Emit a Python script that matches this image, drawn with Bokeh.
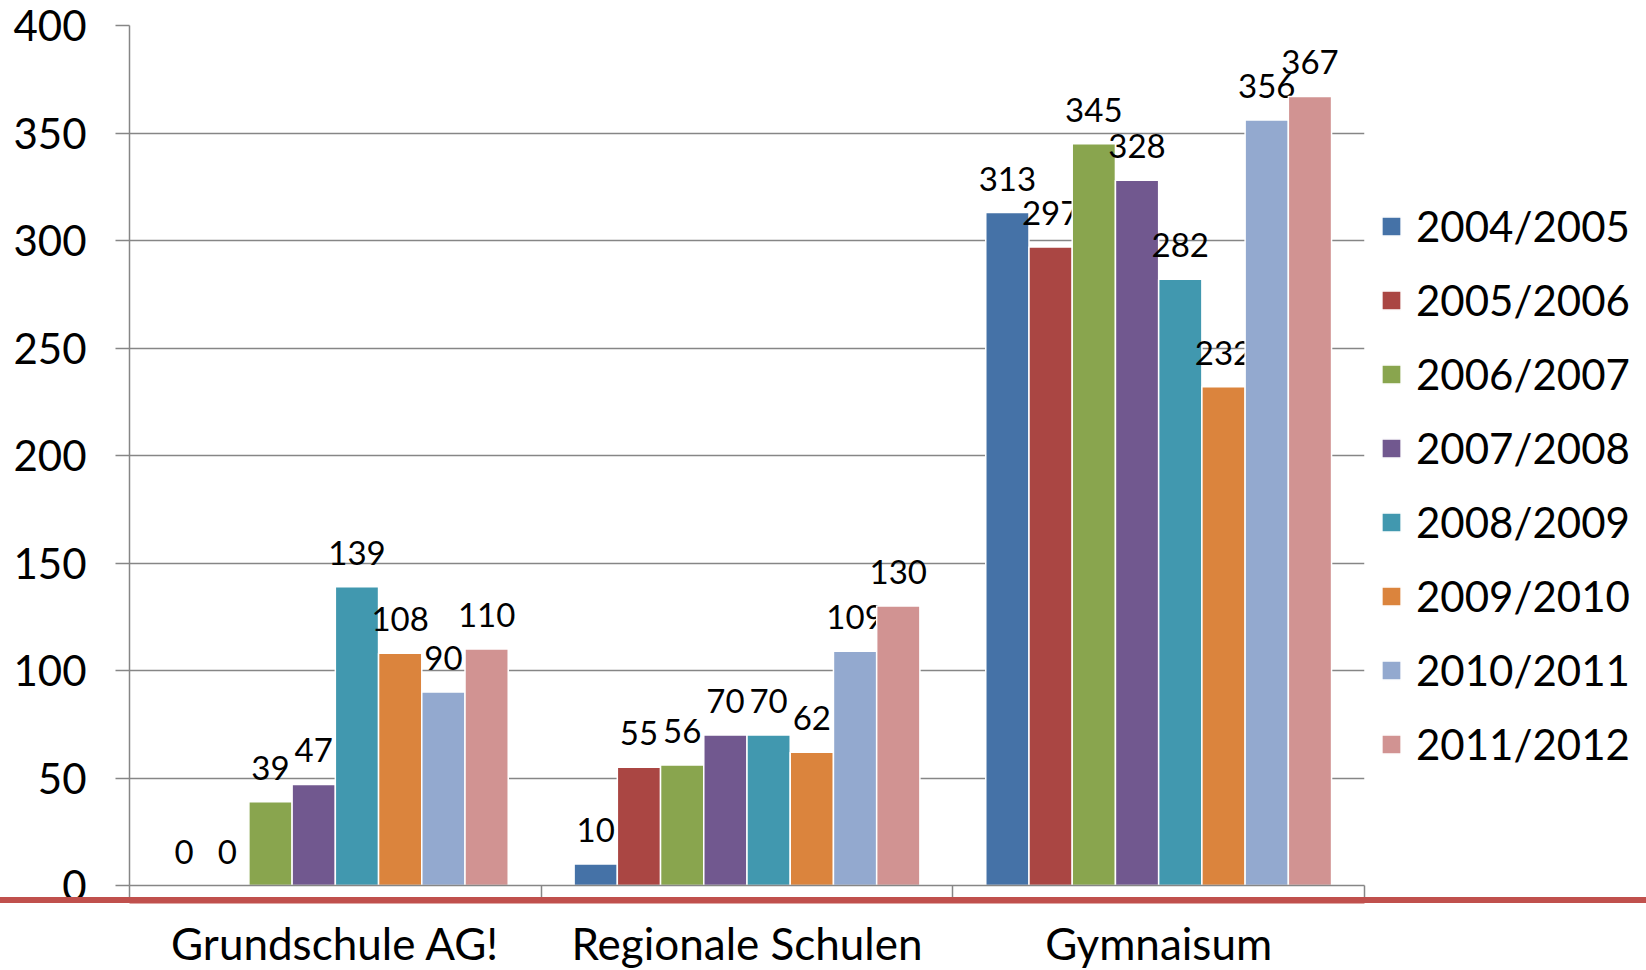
from bokeh.plotting import figure
from bokeh.models import (Range1d, FixedTicker, ColumnDataSource, LinearAxis,
                          Legend, LegendItem, Div)
from bokeh.layouts import column
from bokeh.transform import dodge
from bokeh.core.properties import value
from bokeh.embed import file_html
from bokeh.resources import INLINE

categories = ["Grundschule AG!", "Regionale Schulen", "Gymnaisum"]
years = ["2004/2005", "2005/2006", "2006/2007", "2007/2008",
         "2008/2009", "2009/2010", "2010/2011", "2011/2012"]
v_2004_2005 = [0, 10, 313]
v_2005_2006 = [0, 55, 297]
v_2006_2007 = [39, 56, 345]
v_2007_2008 = [47, 70, 328]
v_2008_2009 = [139, 70, 282]
v_2009_2010 = [108, 62, 232]
v_2010_2011 = [90, 109, 356]
v_2011_2012 = [110, 130, 367]
series = [v_2004_2005, v_2005_2006, v_2006_2007, v_2007_2008,
          v_2008_2009, v_2009_2010, v_2010_2011, v_2011_2012]
colors = ["#4572A7", "#AA4643", "#89A54E", "#71588F",
          "#4198AF", "#DB843D", "#93A9CF", "#D19392"]
y_ticks = [0, 50, 100, 150, 200, 250, 300, 350, 400]

FONT = "Lato"
GRAY = "#868686"
RED = "#C0504D"

n = len(categories)
centers = [i + 0.5 for i in range(n)]
bounds = list(range(n + 1))

p = figure(x_range=Range1d(0, n), y_range=Range1d(0, 400),
           frame_width=1235, frame_height=860,
           min_border_left=129, min_border_right=0, min_border_top=25, min_border_bottom=0,
           output_backend="svg", toolbar_location=None, x_axis_location=None)
p.outline_line_color = None
p.xgrid.visible = False
p.background_fill_color = "white"

data = {"cat": categories, "xc": centers}
for y, s in zip(years, series):
    data[y] = s
    data[y + "_lbl"] = [str(v) for v in s]
src = ColumnDataSource(data)

bw = 0.105
items = []
for i, (y, c) in enumerate(zip(years, colors)):
    off = (i - 3.5) * bw
    r = p.vbar(x=dodge("xc", off), top=y, width=bw, bottom=0,
               source=src, fill_color=c, line_color="white", line_width=1.5)
    p.text(x=dodge("xc", off), y=y, text=y + "_lbl", source=src,
           text_align="center", text_baseline="middle", y_offset=-34,
           text_font=value(FONT), text_font_size="33px", text_color="black")
    items.append(LegendItem(label=y, renderers=[r]))

# y axis
p.yaxis.ticker = FixedTicker(ticks=y_ticks)
p.yaxis.major_tick_out = 14
p.yaxis.major_tick_in = 0
p.yaxis.minor_tick_out = 0
p.yaxis.minor_tick_in = 0
p.yaxis.major_tick_line_color = GRAY
p.yaxis.major_tick_line_width = 1.5
p.yaxis.axis_line_color = GRAY
p.yaxis.axis_line_width = 1.5
p.yaxis.major_label_standoff = 29
p.yaxis.major_label_text_font = FONT
p.yaxis.major_label_text_font_size = "42px"
p.yaxis.major_label_text_color = "black"
p.ygrid.ticker = FixedTicker(ticks=y_ticks)
p.ygrid.grid_line_color = GRAY
p.ygrid.grid_line_width = 1.5

# separator ticks at the group boundaries
sep_ax = LinearAxis(ticker=FixedTicker(ticks=bounds, minor_ticks=[]),
                    major_label_overrides={b: "" for b in bounds})
sep_ax.major_tick_out = 15
sep_ax.major_tick_in = 0
sep_ax.major_tick_line_color = GRAY
sep_ax.major_tick_line_width = 1.5
sep_ax.axis_line_color = GRAY
sep_ax.axis_line_width = 1.5
sep_ax.major_label_standoff = 0
sep_ax.major_label_text_font_size = "1px"
p.add_layout(sep_ax, "below")

# category labels, with the red rule as their axis line
cat_ax = LinearAxis(ticker=FixedTicker(ticks=centers, minor_ticks=[]),
                    major_label_overrides={c: lab for c, lab in zip(centers, categories)})
cat_ax.major_tick_out = 0
cat_ax.major_tick_in = 0
cat_ax.axis_line_color = RED
cat_ax.axis_line_width = 6
cat_ax.major_label_standoff = 16
cat_ax.major_label_text_font = FONT
cat_ax.major_label_text_font_size = "44px"
cat_ax.major_label_text_color = "black"
p.add_layout(cat_ax, "below")

legend = Legend(items=items, location=(15, 116), orientation="vertical",
                glyph_width=24, glyph_height=24, label_height=48, spacing=24,
                padding=0, margin=0, label_standoff=13,
                label_text_font=FONT, label_text_font_size="42px", label_text_color="black",
                border_line_alpha=0, background_fill_alpha=0)
p.add_layout(legend, "right")

# full-width red rule across the page (decoration of the slide)
rule = Div(text="", width=1660, height=6,
           styles={"position": "absolute", "top": "892px", "left": "-5px",
                   "background-color": RED})

layout = column(p, rule)
open("out.html", "w").write(file_html(layout, INLINE))
